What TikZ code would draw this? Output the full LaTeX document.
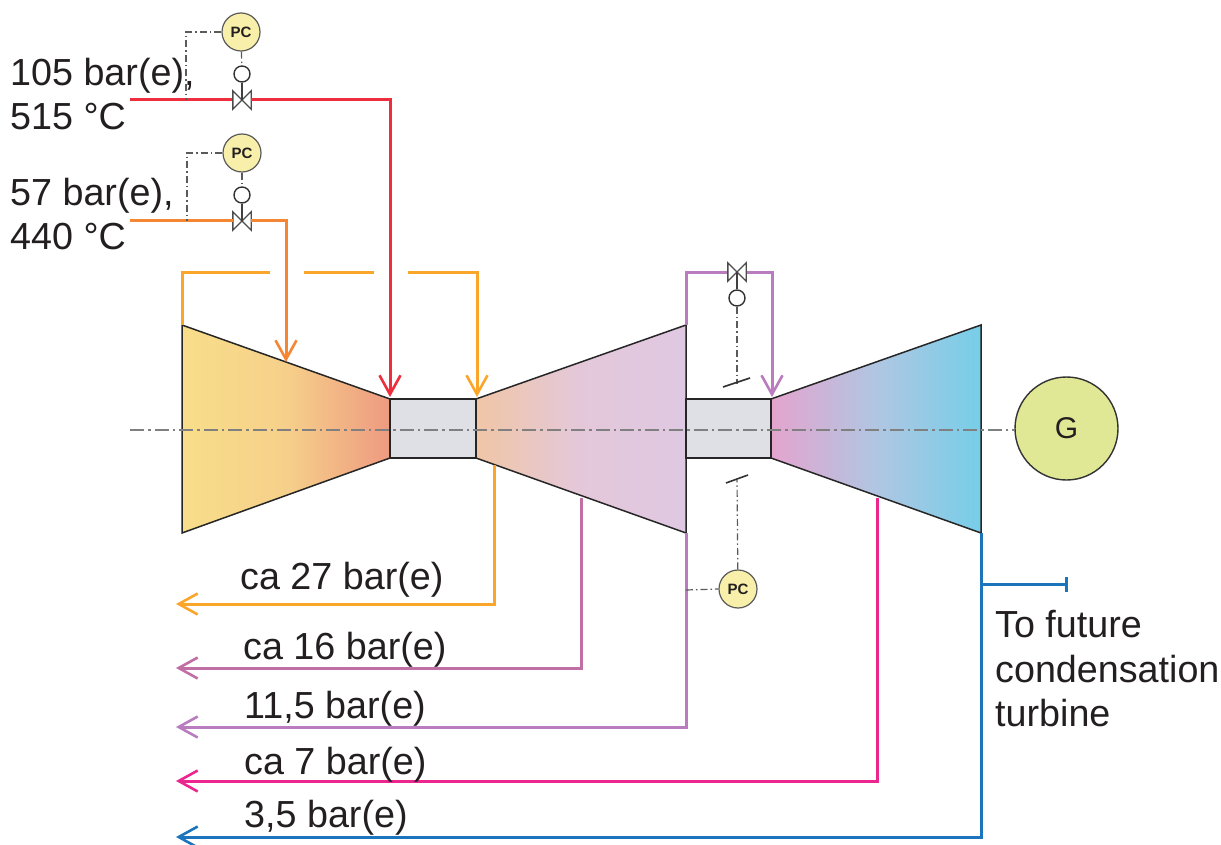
\documentclass[tikz,border=0pt]{standalone}
\usepackage{fontspec}
\setmainfont{Liberation Sans}
\usetikzlibrary{arrows.meta}
\definecolor{stmred}{RGB}{238, 46, 60}
\definecolor{stmorange}{RGB}{245, 134, 52}
\definecolor{stmamber}{RGB}{249, 166, 43}
\definecolor{stmpurple}{RGB}{184, 124, 191}
\definecolor{stmmauve}{RGB}{192, 111, 165}
\definecolor{stmpink}{RGB}{236, 38, 143}
\definecolor{stmblue}{RGB}{28, 117, 188}
\definecolor{pcfill}{RGB}{248, 240, 170}
\definecolor{genfill}{RGB}{224, 231, 149}
\definecolor{casefill}{RGB}{222, 224, 230}
\definecolor{inkgray}{RGB}{90, 90, 90}
\definecolor{textblack}{RGB}{35, 31, 32}
\definecolor{hpleft}{RGB}{248, 222, 138}
\definecolor{hpmid}{RGB}{246, 208, 138}
\definecolor{hpright}{RGB}{238, 154, 128}
\definecolor{ipleft}{RGB}{240, 198, 166}
\definecolor{ipmid}{RGB}{228, 200, 218}
\definecolor{ipright}{RGB}{223, 200, 226}
\definecolor{lpleft}{RGB}{228, 164, 206}
\definecolor{lpmid}{RGB}{176, 198, 226}
\definecolor{lpright}{RGB}{118, 206, 232}
\tikzset{
    pipe/.style={line width=3pt},
    arrowpipe/.style={pipe, -{Straight Barb[length=19pt, width=21pt, line width=2.6pt]}},
    signal/.style={inkgray, line width=1.2pt, dash pattern=on 7pt off 3pt on 1.5pt off 3pt},
    pcnode/.style={circle, draw=inkgray, line width=1.2pt, fill=pcfill, minimum size=38pt, inner sep=0pt, text=textblack, font=\fontsize{15}{15}\selectfont\bfseries},
    stemnode/.style={circle, draw=black!80, line width=1.4pt, fill=white, minimum size=16pt, inner sep=0pt},
    valvenode/.style={inner sep=0pt, minimum size=18pt},
    label/.style={anchor=west, text=textblack, align=left, inner sep=0pt, font=\fontsize{37.7}{44.5}\selectfont},
    stage/.style={draw=black!85, line width=1.5pt},
    casing/.style={draw=black!85, line width=1.6pt, fill=casefill},
    bowtie/.style={draw=black!70, line width=1.4pt, fill=white}
}
\newcommand{\valveat}[1]{%
    \draw[bowtie] (#1.north west) -- (#1.south east) -- (#1.north east) -- (#1.south west) -- cycle;}
\begin{document}
\begin{tikzpicture}[x=1pt, y=-1pt]
    \useasboundingbox (0,0) rectangle (1221,845);
    % turbine stages
    \shade[stage, left color=hpleft, right color=hpright, middle color=hpmid] (182,325) -- (390,399) -- (390,458) -- (182,533) -- cycle;
    \shade[stage, left color=ipleft, right color=ipright, middle color=ipmid] (476,399) -- (686,325) -- (686,533) -- (476,458) -- cycle;
    \shade[stage, left color=lpleft, right color=lpright, middle color=lpmid] (771,399) -- (981,325) -- (981,533) -- (771,458) -- cycle;
    \node[casing, minimum width=86pt, minimum height=59pt, inner sep=0pt] (hpcase) at (433,428.5) {};
    \node[casing, minimum width=85pt, minimum height=59pt, inner sep=0pt] (lpcase) at (728.5,428.5) {};
    \node[circle, draw=black!80, line width=1.4pt, fill=genfill, minimum size=103pt, inner sep=0pt, font=\fontsize{30}{30}\selectfont, text=textblack] (gen) at (1066.5,428.5) {\raisebox{-4pt}{G}};
    \coordinate (axisstart) at (130,430);
    \draw[black!50, line width=1.6pt, dash pattern=on 14pt off 4pt on 2.5pt off 4pt] (axisstart) -- (gen.west |- axisstart);

    % control valves
    \node[valvenode] (valvea) at (242,100) {};
    \node[valvenode] (valveb) at (242,221) {};
    \node[valvenode] (valvec) at (737,272) {};
    \node[stemnode] (stema) at (242,74) {};
    \node[stemnode] (stemb) at (242,195) {};
    \node[stemnode] (stemc) at (737,298) {};
    \node[pcnode] (pca) at (241,32) {PC};
    \node[pcnode] (pcb) at (242,153) {PC};
    \node[pcnode] (pcc) at (738,589) {PC};

    % steam inlets
    \coordinate (reda) at (130,100);
    \coordinate (redb) at (390,100);
    \coordinate (redc) at (390,397);
    \coordinate (orangea) at (130,221);
    \coordinate (orangeb) at (286,221);
    \coordinate (orangec) at (286,362);
    \draw[pipe, stmred] (reda) -- (valvea);
    \valveat{valvea}
    \draw[arrowpipe, stmred] (valvea) -- (redb) -- (redc);
    \valveat{valveb}
    \draw[pipe, stmorange] (orangea) -- (valveb);
    \draw[arrowpipe, stmorange] (valveb) -- (orangeb) -- (orangec);

    % amber bypass with gaps
    \coordinate (ambera) at (182,325);
    \coordinate (amberb) at (182,272);
    \coordinate (amberc) at (270,272);
    \coordinate (amberd) at (304,272);
    \coordinate (ambere) at (374,272);
    \coordinate (amberf) at (408,272);
    \coordinate (amberg) at (477,272);
    \coordinate (amberh) at (477,397);
    \draw[pipe, stmamber] (ambera) -- (amberb) -- (amberc);
    \draw[pipe, stmamber] (amberd) -- (ambere);
    \draw[arrowpipe, stmamber] (amberf) -- (amberg) -- (amberh);

    % purple crossover
    \coordinate (purplea) at (686,325);
    \coordinate (purpleb) at (686,272);
    \coordinate (purplec) at (772,272);
    \coordinate (purpled) at (772,397);
    \draw[pipe, stmpurple] (purplea) -- (purpleb) -- (valvec);
    \draw[arrowpipe, stmpurple] (valvec) -- (purplec) -- (purpled);
    \valveat{valvec}

    % extractions
    \coordinate (ext1a) at (494,465);
    \coordinate (ext1b) at (494,604);
    \coordinate (ext1c) at (176,604);
    \coordinate (ext2a) at (581,498);
    \coordinate (ext2b) at (581,668);
    \coordinate (ext2c) at (176,668);
    \coordinate (ext3a) at (686,533);
    \coordinate (ext3b) at (686,727);
    \coordinate (ext3c) at (176,727);
    \coordinate (ext4a) at (877,498);
    \coordinate (ext4b) at (877,781);
    \coordinate (ext4c) at (176,781);
    \coordinate (ext5a) at (981,533);
    \coordinate (ext5b) at (981,837);
    \coordinate (ext5c) at (176,837);
    \coordinate (futurea) at (981,584);
    \coordinate (futureb) at (1068,584);
    \draw[arrowpipe, stmamber] (ext1a) -- (ext1b) -- (ext1c);
    \draw[arrowpipe, stmmauve] (ext2a) -- (ext2b) -- (ext2c);
    \draw[arrowpipe, stmpurple] (ext3a) -- (ext3b) -- (ext3c);
    \draw[arrowpipe, stmpink] (ext4a) -- (ext4b) -- (ext4c);
    \draw[arrowpipe, stmblue] (ext5a) -- (ext5b) -- (ext5c);
    \draw[pipe, stmblue, -{Bar[width=15pt]}] (futurea) -- (futureb);

    % signal lines
    \coordinate (tapa) at (186,100);
    \coordinate (tapb) at (187,221);
    \coordinate (tapc) at (686,590);
    \coordinate (senseup) at (737,384);
    \coordinate (sensedown) at (737,480);
    \coordinate (barupa) at (723,387);
    \coordinate (barupb) at (750,378);
    \coordinate (bardowna) at (726,483);
    \coordinate (bardownb) at (748,475);
    \draw[signal] (pca.west) -| (tapa);
    \draw[signal] (pcb.west) -| (tapb);
    \draw[signal] (tapc) -- (pcc.west);
    \draw[signal] (stemc) -- (senseup);
    \draw[signal] (pcc) -- (sensedown);
    \draw[signal] (pca) -- (stema);
    \draw[signal] (pcb) -- (stemb);
    \draw[black!75, line width=1.4pt] (stema) -- (valvea.center);
    \draw[black!75, line width=1.4pt] (stemb) -- (valveb.center);
    \draw[black!75, line width=1.4pt] (stemc) -- (valvec.center);
    \draw[black!80, line width=1.6pt] (barupa) -- (barupb);
    \draw[black!80, line width=1.6pt] (bardowna) -- (bardownb);

    % labels
    \node[label] (inleta) at (10,94) {105 bar(e),\\515 °C};
    \node[label] (inletb) at (10,214) {57 bar(e),\\440 °C};
    \node[label] (extlabela) at (240,580) {ca 27 bar(e)};
    \node[label] (extlabelb) at (243,650) {ca 16 bar(e)};
    \node[label] (extlabelc) at (244,709) {11,5 bar(e)};
    \node[label] (extlabeld) at (244,765) {ca 7 bar(e)};
    \node[label] (extlabele) at (244,818) {3,5 bar(e)};
    \node[label] (futurelabel) at (995,669) {To future\\condensation\\turbine};
\end{tikzpicture}
\end{document}
